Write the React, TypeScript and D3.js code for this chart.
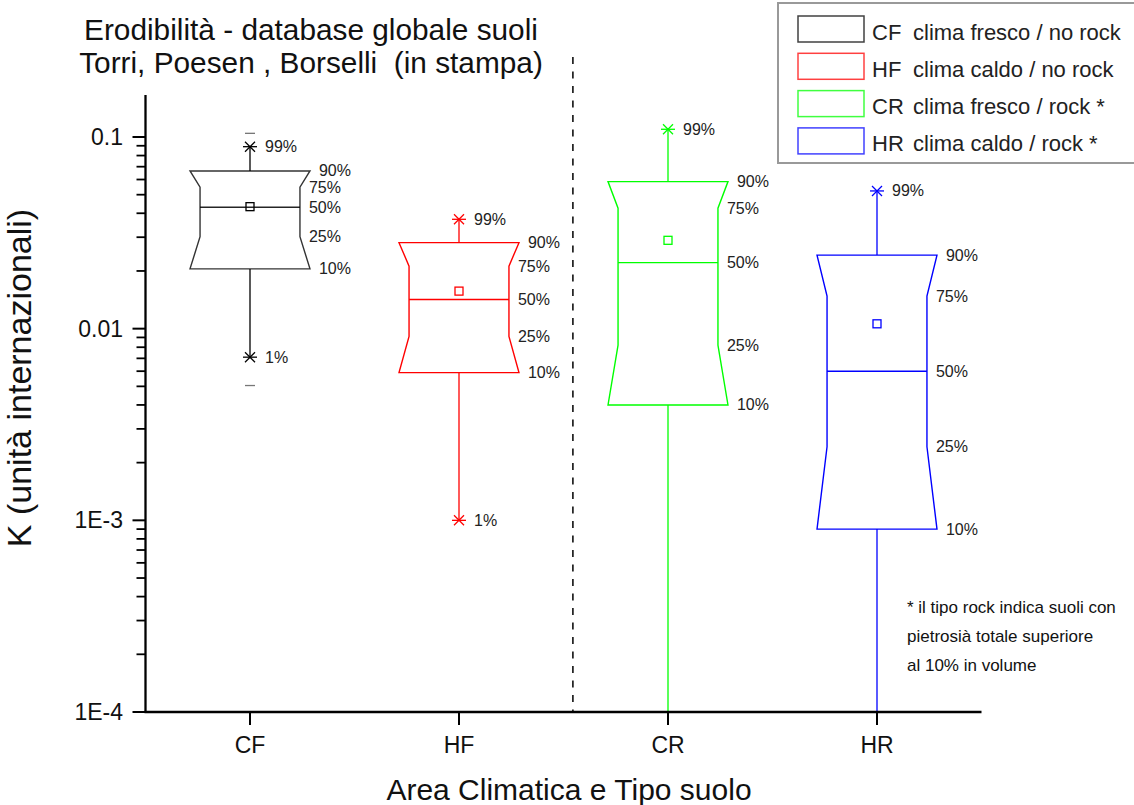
import * as d3 from "d3";

// box statistics (K, international units)
const categories = ["CF", "HF", "CR", "HR"];
const p99 = [0.089, 0.0372, 0.1097, 0.0523];
const p90 = [0.0665, 0.0281, 0.0585, 0.0242];
const p75 = [0.0547, 0.0212, 0.0425, 0.0148];
const p50 = [0.043, 0.0142, 0.0221, 0.006];
const p25 = [0.0302, 0.0091, 0.0082, 0.00242];
const p10 = [0.0205, 0.0059, 0.004, 0.0009];
const p1: (number | null)[] = [0.0071, 0.001, null, null]; // null = below axis
const means = [0.0433, 0.0157, 0.0289, 0.0106];
const maxs: (number | null)[] = [0.1045, null, null, null];
const mins: (number | null)[] = [0.00505, null, null, null];

const colors = ["#000000", "#ff0000", "#00ff00", "#0000ff"];
const legendText = [
    "clima fresco / no rock",
    "clima caldo / no rock",
    "clima fresco / rock *",
    "clima caldo / rock *",
];

const yTickValues = [1e-4, 1e-3, 0.01, 0.1];
const yTickLabels = ["1E-4", "1E-3", "0.01", "0.1"];

const footnote = [
    "* il tipo rock indica suoli con",
    "pietrosià totale superiore",
    "al 10% in volume",
];

const FONT = "'Liberation Sans', Arial, sans-serif";

export default function App() {
    const width = 1134;
    const height = 805;

    const xScale = d3.scaleLinear().domain([0.5, 4.5]).range([145.5, 981.5]);
    const yScale = d3.scaleLog().domain([1e-4, 0.1656]).range([712, 95]).clamp(true);

    const wideHalf = 0.287; // category units
    const narrowHalf = 0.239;

    const minorTicks = yScale
        .ticks()
        .filter((t) => !yTickValues.some((m) => Math.abs(t - m) / m < 1e-6));

    const star = (cx: number, cy: number, color: string) => (
        <g stroke={color} strokeWidth={1.3}>
            <line x1={cx - 7} y1={cy} x2={cx + 7} y2={cy} />
            <line x1={cx - 5} y1={cy - 5} x2={cx + 5} y2={cy + 5} />
            <line x1={cx - 5} y1={cy + 5} x2={cx + 5} y2={cy - 5} />
        </g>
    );

    const boxes = categories.map((cat, i) => {
        const c = i + 1;
        const cx = xScale(c);
        const color = colors[i];
        const wl = xScale(c - wideHalf);
        const wr = xScale(c + wideHalf);
        const nl = xScale(c - narrowHalf);
        const nr = xScale(c + narrowHalf);
        const y90 = yScale(p90[i]);
        const y75 = yScale(p75[i]);
        const y50 = yScale(p50[i]);
        const y25 = yScale(p25[i]);
        const y10 = yScale(p10[i]);
        const y99 = yScale(p99[i]);
        const y1 = p1[i] !== null ? yScale(p1[i] as number) : yScale(1e-4);
        const outline = d3.line()([
            [wl, y90],
            [wr, y90],
            [nr, y75],
            [nr, y25],
            [wr, y10],
            [wl, y10],
            [nl, y25],
            [nl, y75],
        ]) + "Z";
        const labels: [string, number, number][] = [
            ["90%", wr + 9, y90],
            ["75%", nr + 9, y75],
            ["50%", nr + 9, y50],
            ["25%", nr + 9, y25],
            ["10%", wr + 9, y10],
            ["99%", cx + 15, y99],
        ];
        if (p1[i] !== null) labels.push(["1%", cx + 15, y1]);
        const ym = yScale(means[i]);
        return (
            <g key={cat}>
                <line x1={cx} x2={cx} y1={y99} y2={y90} stroke={color} strokeWidth={1.3} />
                <line x1={cx} x2={cx} y1={y10} y2={y1} stroke={color} strokeWidth={1.3} />
                <path d={outline} fill="none" stroke={color} strokeWidth={1.4} strokeLinejoin="miter" opacity={i === 0 ? 0.8 : 1} />
                <line x1={nl} x2={nr} y1={y50} y2={y50} stroke={color} strokeWidth={1.4} opacity={i === 0 ? 0.85 : 1} />
                <rect x={cx - 4} y={ym - 4} width={8} height={8} fill="none" stroke={color} strokeWidth={1.3} />
                {star(cx, y99, color)}
                {p1[i] !== null && star(cx, y1, color)}
                {maxs[i] !== null && (
                    <line x1={cx - 5} x2={cx + 5} y1={yScale(maxs[i] as number)} y2={yScale(maxs[i] as number)} stroke="#777" strokeWidth={1.3} />
                )}
                {mins[i] !== null && (
                    <line x1={cx - 5} x2={cx + 5} y1={yScale(mins[i] as number)} y2={yScale(mins[i] as number)} stroke="#777" strokeWidth={1.3} />
                )}
                {labels.map(([t, x, y]) => (
                    <text key={t} x={x} y={y + 5.5} fontSize={16} fill="#222" fontFamily={FONT}>
                        {t}
                    </text>
                ))}
            </g>
        );
    });

    return (
        <svg width={width} height={height} style={{ position: "absolute", left: 0, top: 0, background: "#fff" }}>
            {/* title */}
            <text x={311} y={40} textAnchor="middle" fontSize={29.8} fontFamily={FONT} fill="#111">
                Erodibilità - database globale suoli
            </text>
            <text x={311} y={73} textAnchor="middle" fontSize={29.8} fontFamily={FONT} fill="#111" style={{ whiteSpace: "pre" }}>
                Torri, Poesen , Borselli  (in stampa)
            </text>

            {/* separator between no rock / rock */}
            <line x1={xScale(2.545)} x2={xScale(2.545)} y1={57} y2={712} stroke="#000" strokeWidth={1.5} strokeDasharray="7,7.5" />

            {boxes}

            {/* y axis */}
            <line x1={xScale(0.5)} x2={xScale(0.5)} y1={yScale(0.1656)} y2={yScale(1e-4) + 1} stroke="#000" strokeWidth={2.3} />
            {yTickValues.map((v, i) => (
                <g key={v}>
                    <line x1={xScale(0.5) - 13} x2={xScale(0.5)} y1={yScale(v)} y2={yScale(v)} stroke="#000" strokeWidth={2} />
                    <text x={123} y={yScale(v) + 8} textAnchor="end" fontSize={23} fontFamily={FONT} fill="#111">
                        {yTickLabels[i]}
                    </text>
                </g>
            ))}
            {minorTicks.map((v) => (
                <line key={v} x1={xScale(0.5) - 9} x2={xScale(0.5)} y1={yScale(v)} y2={yScale(v)} stroke="#000" strokeWidth={1.8} />
            ))}
            <text transform="translate(31,378) rotate(-90)" textAnchor="middle" fontSize={34} fontFamily={FONT} fill="#111">
                K (unità internazionali)
            </text>

            {/* x axis */}
            <line x1={xScale(0.5) - 1} x2={xScale(4.5)} y1={712} y2={712} stroke="#000" strokeWidth={2.3} />
            {categories.map((cat, i) => (
                <g key={cat}>
                    <line x1={xScale(i + 1)} x2={xScale(i + 1)} y1={712} y2={725} stroke="#000" strokeWidth={2} />
                    <text x={xScale(i + 1)} y={752.5} textAnchor="middle" fontSize={23} fontFamily={FONT} fill="#111">
                        {cat}
                    </text>
                </g>
            ))}
            <text x={569} y={800} textAnchor="middle" fontSize={30} fontFamily={FONT} fill="#111">
                Area Climatica e Tipo suolo
            </text>

            {/* legend */}
            <rect x={778} y={3} width={370} height={160} fill="#fff" stroke="#999" strokeWidth={2} />
            {categories.map((cat, i) => {
                const y0 = 16 + i * 37.3;
                return (
                    <g key={cat}>
                        <rect x={798} y={y0} width={66} height={26} fill="none" stroke={colors[i]} strokeWidth={1.5} opacity={0.75} />
                        <text x={872} y={y0 + 23.5} fontSize={22} fontFamily={FONT} fill="#222">
                            {cat}
                        </text>
                        <text x={913} y={y0 + 23.5} fontSize={22} fontFamily={FONT} fill="#222">
                            {legendText[i]}
                        </text>
                    </g>
                );
            })}

            {/* footnote */}
            {footnote.map((t, i) => (
                <text key={t} x={907} y={613 + i * 29} fontSize={17} fontFamily={FONT} fill="#111">
                    {t}
                </text>
            ))}
        </svg>
    );
}
